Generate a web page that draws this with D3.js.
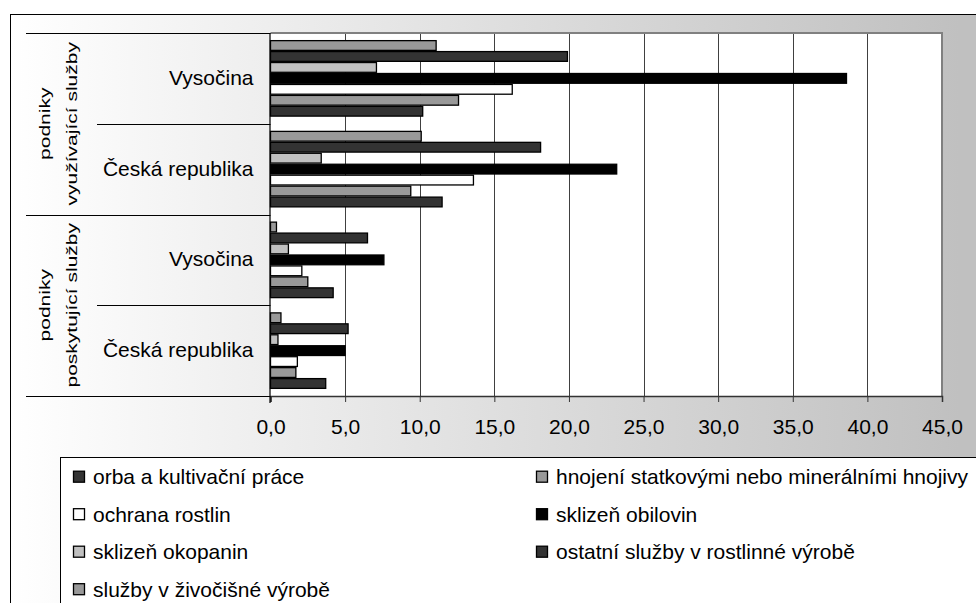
<!DOCTYPE html>
<html>
<head>
<meta charset="utf-8">
<script src="https://cdn.jsdelivr.net/npm/d3@7"></script>
<style>
  html, body { margin: 0; padding: 0; background: #ffffff; }
  svg { display: block; font-family: "Liberation Sans", Arial, sans-serif; }
</style>
</head>
<body>
<svg id="chart" width="976" height="603"></svg>
<script>
// ---- data ----
const categories = ["Vysočina (využívající)", "Česká republika (využívající)", "Vysočina (poskytující)", "Česká republika (poskytující)"];
const categoryLabels = ["Vysočina", "Česká republika", "Vysočina", "Česká republika"];
const groupLabels = [["podniky", "využívající služby"], ["podniky", "poskytující služby"]];
const seriesNames = [
  "orba a kultivační práce",
  "hnojení statkovými nebo minerálními hnojivy",
  "ochrana rostlin",
  "sklizeň obilovin",
  "sklizeň okopanin",
  "ostatní služby v rostlinné výrobě",
  "služby v živočišné výrobě"
];
const orba      = [10.2, 11.5, 4.2, 3.7];
const hnojeni   = [12.6, 9.4, 2.5, 1.7];
const ochrana   = [16.2, 13.6, 2.1, 1.8];
const obiloviny = [38.6, 23.2, 7.6, 5.0];
const okopaniny = [7.1, 3.4, 1.2, 0.5];
const ostatni   = [19.9, 18.1, 6.5, 5.2];
const zivocisna = [11.1, 10.1, 0.4, 0.7];
const seriesValues = [orba, hnojeni, ochrana, obiloviny, okopaniny, ostatni, zivocisna];
const seriesColors = ["#333333", "#999999", "#ffffff", "#000000", "#c0c0c0", "#333333", "#999999"];
const xTicks = [0, 5, 10, 15, 20, 25, 30, 35, 40, 45];

// ---- layout ----
const svg = d3.select("#chart");
const plot = { left: 270.5, right: 942, top: 33, bottom: 396 };

const defs = svg.append("defs");
const grad = defs.append("linearGradient").attr("id", "bg")
  .attr("gradientUnits", "userSpaceOnUse").attr("x1", 10).attr("x2", 960).attr("y1", 0).attr("y2", 0);
grad.append("stop").attr("offset", 0).attr("stop-color", "#ffffff");
grad.append("stop").attr("offset", 1).attr("stop-color", "#c0c0c0");

// chart background + outer border
svg.append("rect").attr("x", 10).attr("y", 14).attr("width", 980).attr("height", 600).attr("fill", "url(#bg)");
svg.append("line").attr("x1", 10).attr("x2", 976).attr("y1", 14.5).attr("y2", 14.5).attr("stroke", "#000");
svg.append("line").attr("x1", 10.5).attr("x2", 10.5).attr("y1", 14).attr("y2", 603).attr("stroke", "#000");

// scales
const x = d3.scaleLinear().domain([0, 45]).range([plot.left, plot.right]);
const y0 = d3.scaleBand().domain(categories).range([plot.top, plot.bottom]).paddingInner(0.155).paddingOuter(0.0775);
const seriesOrderTopDown = d3.range(seriesNames.length).reverse();
const y1 = d3.scaleBand().domain(seriesOrderTopDown).range([0, y0.bandwidth()]).padding(0);

// plot area
svg.append("rect").attr("x", plot.left).attr("y", plot.top).attr("width", plot.right - plot.left).attr("height", plot.bottom - plot.top)
  .attr("fill", "#ffffff");

// gridlines
svg.append("g").selectAll("line").data(xTicks.filter(t => t > 0 && t < 45)).join("line")
  .attr("x1", d => Math.round(x(d)) + 0.5).attr("x2", d => Math.round(x(d)) + 0.5)
  .attr("y1", plot.top).attr("y2", plot.bottom).attr("stroke", "#404040").attr("stroke-width", 1);

// plot border (top & right)
svg.append("path").attr("d", `M${plot.left},${plot.top} H${plot.right} V${plot.bottom}`)
  .attr("fill", "none").attr("stroke", "#808080").attr("stroke-width", 2);

// bars
const gGroups = svg.append("g").selectAll("g").data(categories).join("g")
  .attr("transform", d => `translate(0,${y0(d)})`);
gGroups.selectAll("rect").data((c, ci) => seriesValues.map((vals, si) => ({ si, v: vals[ci] }))).join("rect")
  .attr("x", x(0))
  .attr("y", d => y1(d.si) + 0.6)
  .attr("width", d => x(d.v) - x(0))
  .attr("height", y1.bandwidth() - 1.2)
  .attr("fill", d => seriesColors[d.si])
  .attr("stroke", "#000").attr("stroke-width", 1.3);

// x axis
const xAxis = d3.axisBottom(x).tickValues(xTicks).tickSize(6).tickPadding(17)
  .tickFormat(d => d3.format(".1f")(d).replace(".", ","));
const gx = svg.append("g").attr("transform", `translate(0,${plot.bottom})`).call(xAxis);
gx.select(".domain").attr("stroke", "#333").attr("stroke-width", 1.5);
gx.selectAll(".tick line").attr("stroke", "#333");
gx.selectAll(".tick text").attr("font-size", 21).attr("fill", "#000")
  .attr("font-family", "'Liberation Sans', Arial, sans-serif");

// category axis (left)
svg.append("line").attr("x1", plot.left - 0.5).attr("x2", plot.left - 0.5).attr("y1", plot.top).attr("y2", plot.bottom + 7)
  .attr("stroke", "#000").attr("stroke-width", 1.2);
const step = y0.step();
const boundaries = d3.range(categories.length + 1).map(i => ({ i, y: plot.top + i * step }));
svg.append("g").selectAll("line").data(boundaries).join("line")
  .attr("x1", d => d.i % 2 === 0 ? 26 : 97).attr("x2", plot.left)
  .attr("y1", d => Math.round(d.y) + 0.5).attr("y2", d => Math.round(d.y) + 0.5)
  .attr("stroke", "#000").attr("stroke-width", 1);

// inner category labels
svg.append("g").selectAll("text").data(categories).join("text")
  .attr("x", 253.5)
  .attr("y", d => y0(d) + y0.bandwidth() / 2 + 6.5)
  .attr("text-anchor", "end").attr("font-size", 21).attr("fill", "#000")
  .text((d, i) => categoryLabels[i]);

// outer group labels (rotated, two lines)
groupLabels.forEach((lines, gi) => {
  const cy = plot.top + (gi * 2 + 1) * step;
  const baselines = [49.8, 77.3];
  lines.forEach((line, li) => {
    svg.append("text")
      .attr("transform", `translate(${baselines[li]},${cy}) rotate(-90) scale(1,0.74)`)
      .attr("text-anchor", "middle").attr("font-size", 21).attr("fill", "#000")
      .text(line);
  });
});

// legend
const legend = svg.append("g");
legend.append("rect").attr("x", 60.5).attr("y", 457.5).attr("width", 930).attr("height", 160)
  .attr("fill", "#ffffff").attr("stroke", "#000").attr("stroke-width", 1);
const legendCols = [73, 536];
const legendItems = legend.selectAll("g.item").data(seriesNames).join("g").attr("class", "item")
  .attr("transform", (d, i) => `translate(${legendCols[i % 2]},${476.7 + Math.floor(i / 2) * 37.5})`);
legendItems.append("rect").attr("x", 0.5).attr("y", -5.5).attr("width", 11).attr("height", 11)
  .attr("fill", (d, i) => seriesColors[i]).attr("stroke", "#000").attr("stroke-width", 1.3);
legendItems.append("text").attr("x", 20).attr("y", 7.3).attr("font-size", 21).attr("fill", "#000")
  .text(d => d);
</script>
</body>
</html>
